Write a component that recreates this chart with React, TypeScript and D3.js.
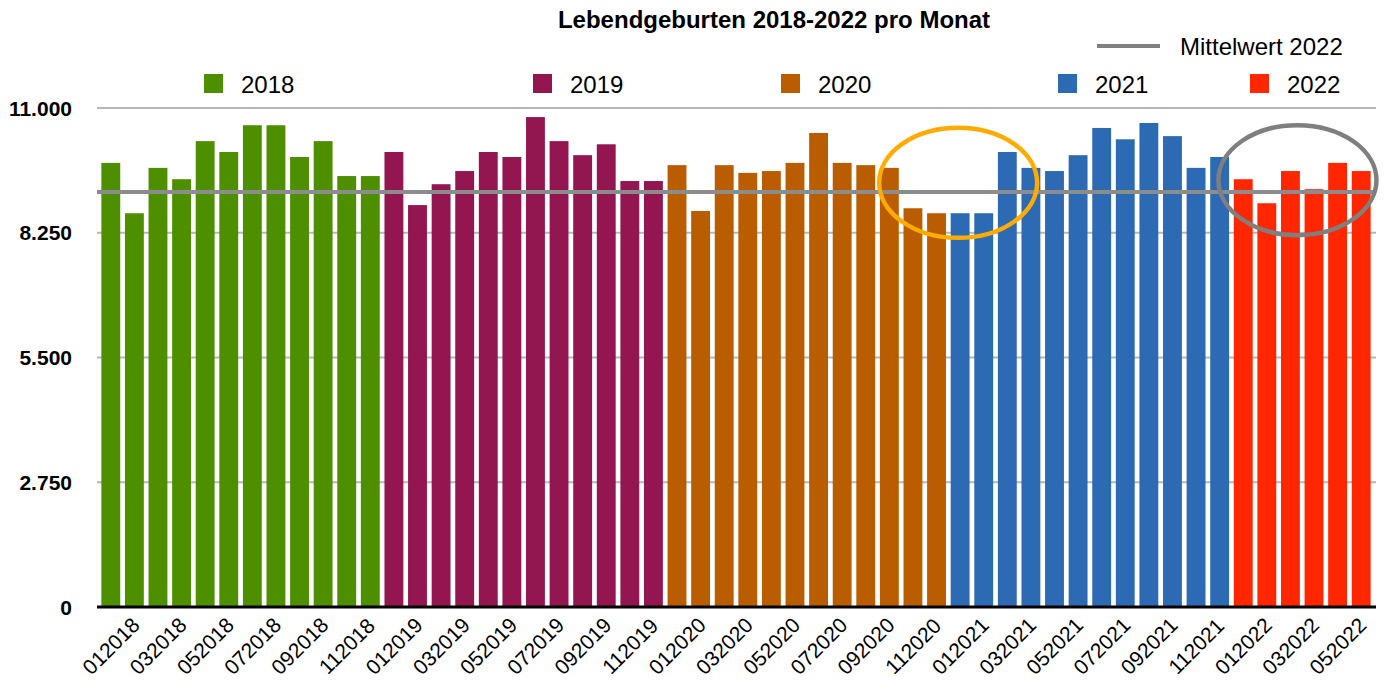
import React, { useRef, useEffect } from "react";
import * as d3 from "d3";

// Lebendgeburten pro Monat
const years = ["2018", "2019", "2020", "2021", "2022"];
const yearColors = ["#4e8f00", "#941651", "#ba5c00", "#2c6ab4", "#ff2600"];
const values2018 = [9790, 8680, 9680, 9430, 10270, 10030, 10620, 10620, 9920, 10270, 9500, 9500];
const values2019 = [10030, 8860, 9320, 9610, 10030, 9920, 10800, 10270, 9960, 10200, 9390, 9390];
const values2020 = [9740, 8730, 9740, 9570, 9610, 9790, 10450, 9790, 9740, 9680, 8790, 8680];
const values2021 = [8680, 8680, 10030, 9680, 9610, 9960, 10560, 10310, 10670, 10380, 9680, 9920];
const values2022 = [9430, 8900, 9610, 9210, 9790, 9610];
const months = ["01", "02", "03", "04", "05", "06", "07", "08", "09", "10", "11", "12"];
const yTicks = [0, 2750, 5500, 8250, 11000];
const mittelwert2022 = 9150;

export default function App() {
    const svgRef = useRef();

    useEffect(() => {
        const width = 1386;
        const height = 681;
        const font = "'Liberation Sans', Arial, sans-serif";

        const series = [values2018, values2019, values2020, values2021, values2022];
        const data = [];
        series.forEach((vals, yi) => {
            vals.forEach((v, mi) => {
                data.push({ key: months[mi] + years[yi], value: v, color: yearColors[yi] });
            });
        });

        d3.select(svgRef.current).selectAll("*").remove();
        const svg = d3.select(svgRef.current).attr("width", width).attr("height", height);

        const x = d3
            .scaleBand()
            .domain(data.map((d) => d.key))
            .range([99, 1373])
            .paddingInner(0.2)
            .paddingOuter(0.1);
        const y = d3.scaleLinear().domain([0, 11000]).range([607, 108]);
        const fmt = (v) => d3.format(",")(v).replace(/,/g, ".");
        const cx = (k) => x(k) + x.bandwidth() / 2;

        // gridlines
        svg.append("g")
            .selectAll("line")
            .data(yTicks.filter((t) => t > 0))
            .join("line")
            .attr("x1", 97)
            .attr("x2", 1376)
            .attr("y1", (d) => y(d))
            .attr("y2", (d) => y(d))
            .attr("stroke", "#b7b7b7")
            .attr("stroke-width", 2);

        // y labels
        svg.append("g")
            .selectAll("text")
            .data(yTicks)
            .join("text")
            .attr("x", 72)
            .attr("y", (d) => y(d))
            .attr("dy", "0.36em")
            .attr("text-anchor", "end")
            .style("font-family", font)
            .style("font-size", "21px")
            .style("font-weight", "bold")
            .text((d) => fmt(d));

        // bars
        svg.append("g")
            .selectAll("rect")
            .data(data)
            .join("rect")
            .attr("x", (d) => x(d.key))
            .attr("width", x.bandwidth())
            .attr("y", (d) => y(d.value))
            .attr("height", (d) => y(0) - y(d.value))
            .attr("fill", (d) => d.color);

        // baseline
        svg.append("line")
            .attr("x1", 97)
            .attr("x2", 1376)
            .attr("y1", y(0))
            .attr("y2", y(0))
            .attr("stroke", "#000")
            .attr("stroke-width", 3);

        // mean line
        svg.append("line")
            .attr("x1", 97)
            .attr("x2", 1376)
            .attr("y1", y(mittelwert2022))
            .attr("y2", y(mittelwert2022))
            .attr("stroke", "#8c8c8c")
            .attr("stroke-width", 4);

        // x labels (every second month)
        svg.append("g")
            .selectAll("text")
            .data(data.filter((d, i) => i % 2 === 0))
            .join("text")
            .attr("transform", (d) => `translate(${cx(d.key)},646) rotate(-45)`)
            .attr("text-anchor", "middle")
            .attr("dy", "0.36em")
            .style("font-family", font)
            .style("font-size", "21px")
            .text((d) => d.key);

        // highlight ellipses
        svg.append("ellipse")
            .attr("cx", cx("012021") - 2)
            .attr("cy", y(9350))
            .attr("rx", 79)
            .attr("ry", 55)
            .attr("fill", "none")
            .attr("stroke", "#ffab00")
            .attr("stroke-width", 4.5);
        svg.append("ellipse")
            .attr("cx", cx("032022") + 7)
            .attr("cy", y(9410))
            .attr("rx", 79)
            .attr("ry", 55)
            .attr("fill", "none")
            .attr("stroke", "#7f7f7f")
            .attr("stroke-width", 4.5);

        // title
        svg.append("text")
            .attr("x", 774)
            .attr("y", 28)
            .attr("text-anchor", "middle")
            .style("font-family", font)
            .style("font-size", "24px")
            .style("font-weight", "bold")
            .text("Lebendgeburten 2018-2022 pro Monat");

        // legend
        const legendX = [204, 533, 781, 1058, 1250];
        const lg = svg.append("g")
            .selectAll("g")
            .data(years)
            .join("g")
            .attr("transform", (d, i) => `translate(${legendX[i]},74)`);
        lg.append("rect")
            .attr("width", 19)
            .attr("height", 19)
            .attr("fill", (d, i) => yearColors[i]);
        lg.append("text")
            .attr("x", 37)
            .attr("y", 19)
            .style("font-family", font)
            .style("font-size", "24px")
            .text((d) => d);

        svg.append("line")
            .attr("x1", 1097)
            .attr("x2", 1160)
            .attr("y1", 46)
            .attr("y2", 46)
            .attr("stroke", "#808080")
            .attr("stroke-width", 4);
        svg.append("text")
            .attr("x", 1180)
            .attr("y", 55)
            .style("font-family", font)
            .style("font-size", "24px")
            .text("Mittelwert 2022");
    }, []);

    return <svg ref={svgRef} style={{ position: "absolute", left: 0, top: 0 }}></svg>;
}
